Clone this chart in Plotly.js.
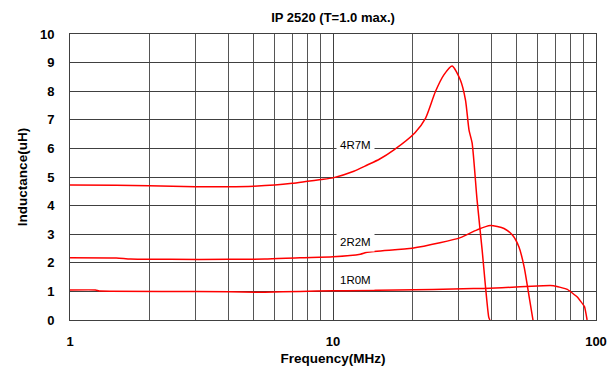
<!DOCTYPE html>
<html>
<head>
<meta charset="utf-8">
<script src="https://cdn.plot.ly/plotly-3.0.1.min.js"></script>
<style>html,body{margin:0;padding:0;background:#fff;}#chart{width:615px;height:371px;}</style>
</head>
<body>
<div id="chart"></div>
<script>
var chartTitle = "IP 2520 (T=1.0 max.)";
var xTitle = "Frequency(MHz)";
var yTitle = "Inductance(uH)";
var seriesNames = ["4R7M", "2R2M", "1R0M"];

var freq4R7M = [1, 1.5, 2, 3, 4, 5, 6, 7, 8, 9, 10, 12, 13.5, 15, 17, 20.5, 22.5, 24.5, 26.4, 28.4, 30.5, 31.9, 32.9, 33.8, 35.3, 36.9, 39.1, 39.5];
var L4R7M    = [4.72, 4.71, 4.69, 4.66, 4.66, 4.68, 4.72, 4.78, 4.85, 4.91, 4.97, 5.2, 5.42, 5.62, 5.94, 6.55, 7.06, 7.98, 8.57, 8.88, 8.39, 7.69, 6.64, 6.19, 4.2, 2.45, 0.1, 0];

var freq2R2M = [1, 1.5, 1.7, 2.4, 4, 5.5, 7.5, 10, 12.7, 13.5, 20, 25.5, 30.5, 35.3, 39.6, 44.7, 48.1, 50.9, 53.3, 55.7, 57.6];
var L2R2M    = [2.18, 2.17, 2.13, 2.12, 2.12, 2.13, 2.18, 2.21, 2.30, 2.37, 2.51, 2.70, 2.88, 3.15, 3.30, 3.2, 2.97, 2.56, 1.86, 0.81, 0];

var freq1R0M = [1, 1.25, 1.3, 3, 5.5, 7.5, 10, 12.7, 24, 34.2, 37.3, 51.5, 63, 69, 77.8, 84.7, 90.4, 92.5];
var L1R0M    = [1.05, 1.05, 1.01, 1.0, 0.97, 1.0, 1.02, 1.03, 1.07, 1.1, 1.1, 1.16, 1.2, 1.2, 1.07, 0.81, 0.47, 0];

var xTickVals = [1, 10, 100];
var xTickText = ["1", "10", "100"];
var xMinorVals = [2,3,4,5,6,7,8,9,20,30,40,50,60,70,80,90];

var labelPos = [[12.2, 6.12], [12.2, 2.74], [12.2, 1.40]];

var font = "Liberation Sans, Arial, sans-serif";
var lineStyle = {color: "#ff0000", width: 1.5};

var traces = [
  {x: freq4R7M, y: L4R7M, name: seriesNames[0], mode: "lines", line: Object.assign({shape: "spline", smoothing: 0.6}, lineStyle)},
  {x: freq2R2M, y: L2R2M, name: seriesNames[1], mode: "lines", line: Object.assign({shape: "spline", smoothing: 0.6}, lineStyle)},
  {x: freq1R0M, y: L1R0M, name: seriesNames[2], mode: "lines", line: Object.assign({shape: "spline", smoothing: 0.3}, lineStyle)}
];

var annotations = seriesNames.map(function(n, i){
  return {x: Math.log10(labelPos[i][0]), y: labelPos[i][1], xref: "x", yref: "y", text: n, showarrow: false,
          bgcolor: "#ffffff", borderpad: 3, font: {family: font, size: 11.5, color: "#000"}};
});

var layout = {
  width: 615, height: 371,
  margin: {l: 69.5, r: 19, t: 34, b: 51},
  paper_bgcolor: "#fff", plot_bgcolor: "#fff",
  showlegend: false,
  title: {text: chartTitle, x: 0.5, xref: "paper", xanchor: "center", y: 1 - 17/371, yanchor: "middle",
          font: {family: font, size: 13, color: "#000", weight: "bold"}},
  xaxis: {type: "log", range: [0, 2], tickmode: "array", tickvals: xTickVals, ticktext: xTickText,
          showgrid: true, gridcolor: "#404040", gridwidth: 1,
          minor: {tickmode: "array", tickvals: xMinorVals, showgrid: true, gridcolor: "#555555", gridwidth: 1, ticks: ""},
          ticks: "outside", ticklen: 9, tickcolor: "rgba(0,0,0,0)",
          showline: true, mirror: true, linecolor: "#404040", linewidth: 1, zeroline: false,
          tickfont: {family: font, size: 13, color: "#000", weight: "bold"},
          title: {text: xTitle, standoff: 5, font: {family: font, size: 13.5, color: "#000", weight: "bold"}}},
  yaxis: {range: [0, 10], dtick: 1, tick0: 0, showgrid: true, gridcolor: "#404040", gridwidth: 1,
          ticks: "outside", ticklen: 12, tickcolor: "rgba(0,0,0,0)",
          showline: true, mirror: true, linecolor: "#404040", linewidth: 1, zeroline: false,
          tickfont: {family: font, size: 13, color: "#000", weight: "bold"},
          title: {text: yTitle, standoff: 9, font: {family: font, size: 13.5, color: "#000", weight: "bold"}}},
  annotations: annotations
};

Plotly.newPlot("chart", traces, layout, {displayModeBar: false, staticPlot: true});
</script>
</body>
</html>
